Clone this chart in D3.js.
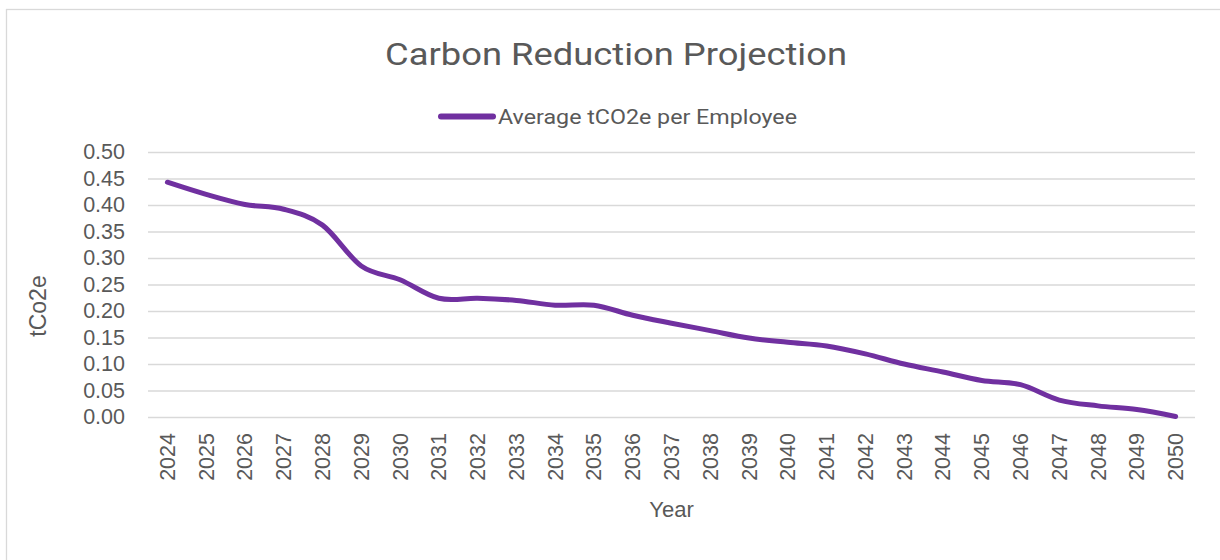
<!DOCTYPE html>
<html>
<head>
<meta charset="utf-8">
<script src="https://cdn.jsdelivr.net/npm/d3@7"></script>
<style>
    body { margin: 0; background: #fff; }
    svg text { fill: #595959; }
</style>
</head>
<body>
<div class="container"></div>
<script>
// chart values
var years = ["2024", "2025", "2026", "2027", "2028", "2029", "2030", "2031", "2032", "2033", "2034", "2035", "2036",
    "2037", "2038", "2039", "2040", "2041", "2042", "2043", "2044", "2045", "2046", "2047", "2048", "2049", "2050"];
var avgPerEmployee = [0.443, 0.420, 0.401, 0.392, 0.362, 0.285, 0.259, 0.224, 0.224, 0.220, 0.211, 0.211, 0.192,
    0.177, 0.163, 0.149, 0.141, 0.134, 0.119, 0.100, 0.085, 0.069, 0.061, 0.032, 0.021, 0.014, 0.001];
var yTicks = [0, 0.05, 0.10, 0.15, 0.20, 0.25, 0.30, 0.35, 0.40, 0.45, 0.50];

var config = {
    title: "Carbon Reduction Projection",
    seriesName: "Average tCO2e per Employee",
    xTitle: "Year",
    yTitle: "tCo2e",
    width: 1220,
    height: 560,
    plot: { left: 148, right: 1195, top: 152, bottom: 417 },
    lineColor: "#7030A0",
    gridColor: "#d9d9d9",
    textFont: "Liberation Sans, Arial, sans-serif",
    headFont: "Roboto, Inter, sans-serif"
};

var svg = d3.select(".container")
    .append("svg")
    .attr("width", config.width)
    .attr("height", config.height);

// chart border
svg.append("rect")
    .attr("x", 6.5).attr("y", 9.5)
    .attr("width", config.width + 10).attr("height", config.height + 10)
    .attr("fill", "none")
    .attr("stroke", config.gridColor)
    .attr("stroke-width", 1.3);

var x = d3.scaleBand()
    .domain(years)
    .range([config.plot.left, config.plot.right]);

var y = d3.scaleLinear()
    .domain([0, 0.5])
    .range([config.plot.bottom, config.plot.top]);

// gridlines + y labels
var yAxis = svg.append("g")
    .attr("transform", `translate(${config.plot.left},0)`)
    .call(d3.axisLeft(y)
        .tickValues(yTicks)
        .tickFormat(d3.format(".2f"))
        .tickSize(-(config.plot.right - config.plot.left))
        .tickPadding(23));
yAxis.select(".domain").remove();
yAxis.selectAll(".tick line")
    .attr("stroke", config.gridColor)
    .attr("stroke-width", 1.3);
yAxis.selectAll(".tick text")
    .attr("font-family", config.textFont)
    .attr("font-size", 21.5)
    .style("fill", "#595959");

// x labels, rotated
var xAxis = svg.append("g")
    .attr("transform", `translate(0,${config.plot.bottom})`)
    .call(d3.axisBottom(x).tickSize(0).tickPadding(0));
xAxis.select(".domain").remove();
xAxis.selectAll(".tick text")
    .attr("font-family", config.textFont)
    .attr("font-size", 21.5)
    .attr("transform", "rotate(-90)")
    .attr("text-anchor", "end")
    .attr("x", -16)
    .attr("y", 0)
    .attr("dy", "0.35em")
    .style("fill", "#595959");

// the series
var line = d3.line()
    .x((d, i) => x(years[i]) + x.bandwidth() / 2)
    .y((d) => y(d))
    .curve(d3.curveCardinal.tension(0));

svg.append("path")
    .datum(avgPerEmployee)
    .attr("d", line)
    .attr("fill", "none")
    .attr("stroke", config.lineColor)
    .attr("stroke-width", 5)
    .attr("stroke-linecap", "round")
    .attr("stroke-linejoin", "round");

// title
svg.append("text")
    .attr("x", 385).attr("y", 65)
    .attr("font-family", config.headFont)
    .attr("font-size", 32)
    .attr("textLength", 462)
    .attr("lengthAdjust", "spacingAndGlyphs")
    .text(config.title);

// legend
svg.append("line")
    .attr("x1", 441).attr("x2", 493)
    .attr("y1", 116.5).attr("y2", 116.5)
    .attr("stroke", config.lineColor)
    .attr("stroke-width", 6)
    .attr("stroke-linecap", "round");

svg.append("text")
    .attr("x", 498).attr("y", 124)
    .attr("font-family", config.headFont)
    .attr("font-size", 21)
    .attr("textLength", 299)
    .attr("lengthAdjust", "spacingAndGlyphs")
    .text(config.seriesName);

// axis titles
svg.append("text")
    .attr("x", (config.plot.left + config.plot.right) / 2)
    .attr("y", 517)
    .attr("text-anchor", "middle")
    .attr("font-family", config.textFont)
    .attr("font-size", 22)
    .text(config.xTitle);

svg.append("text")
    .attr("transform", "translate(46,306) rotate(-90)")
    .attr("text-anchor", "middle")
    .attr("font-family", config.textFont)
    .attr("font-size", 23)
    .text(config.yTitle);
</script>
</body>
</html>
